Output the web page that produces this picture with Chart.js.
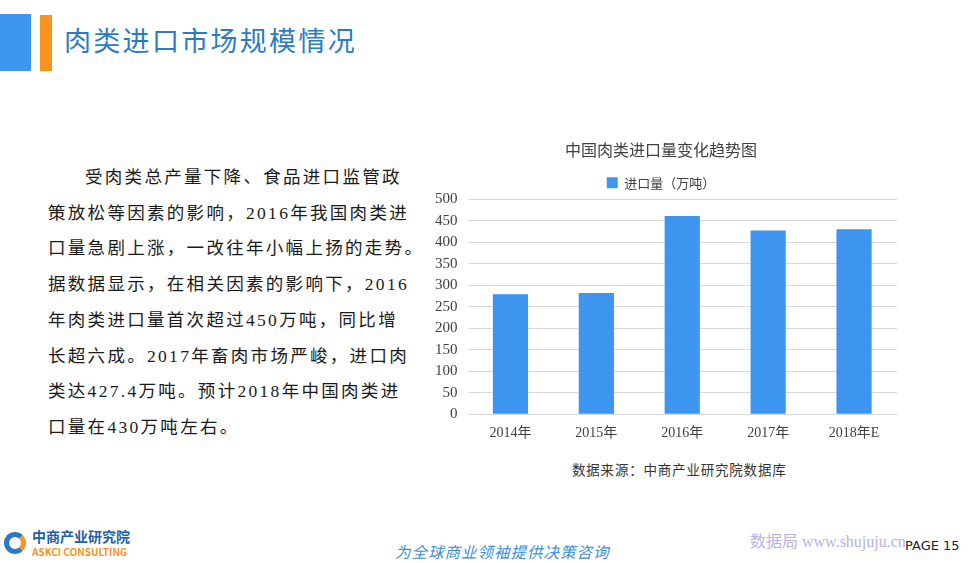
<!DOCTYPE html>
<html>
<head>
<meta charset="utf-8">
<script src="https://cdn.jsdelivr.net/npm/chart.js@4.4.0/dist/chart.umd.min.js"></script>
<style>
    body { margin: 0; width: 976px; height: 563px; position: relative; background: #fff; overflow: hidden;
           font-family: "Liberation Serif", "Noto Sans CJK SC", serif; }
    .blk-blue { position: absolute; left: 0; top: 14px; width: 31px; height: 57px; background: #3d95ef; }
    .blk-orange { position: absolute; left: 40px; top: 15px; width: 12px; height: 56px; background: #f7931e; }
    .title { position: absolute; left: 64px; top: 20px; font-family: "Noto Sans CJK SC", sans-serif;
             font-size: 27px; color: #2b7bc4; letter-spacing: 2.3px; }
    .para { position: absolute; left: 48px; top: 160px; font-size: 17.5px; color: #1a1a1a; line-height: 35.7px;
            font-family: "Liberation Serif", "Noto Sans CJK SC", serif; letter-spacing: 2.3px; white-space: nowrap; }
    .chart-box { position: absolute; left: 425px; top: 138px; width: 485px; height: 307px; }
    .source { position: absolute; left: 572px; top: 459px; font-size: 13.5px; color: #333;
              font-family: "Noto Sans CJK SC", sans-serif; letter-spacing: 0.8px; }
    .logo { position: absolute; left: 4px; top: 528px; font-family: "Noto Sans CJK SC", sans-serif; }
    .logo .circ { position: absolute; left: 0; top: 4px; width: 22px; height: 22px; border-radius: 50%;
                  border: 5px solid #2b7bc4; border-right-color: #f7931e; box-sizing: border-box; }
    .logo .cn { position: absolute; left: 28px; top: -2px; font-size: 14px; font-weight: bold; color: #1f5fa8; white-space: nowrap; }
    .logo .en { position: absolute; left: 28px; top: 16px; font-size: 10px; font-weight: bold; color: #f7931e; white-space: nowrap; }
    .slogan { position: absolute; left: 395px; top: 540px; font-size: 15.5px; font-style: italic; color: #3d8fd6;
              font-family: "Noto Sans CJK SC", sans-serif; letter-spacing: 1px; }
    .wm { position: absolute; left: 750px; top: 528px; font-size: 16px; color: #b7b2e6; white-space: nowrap; }
    .page { position: absolute; left: 905px; top: 538px; font-size: 13px; color: #222; font-family: "DejaVu Sans", sans-serif;
            background: #fff; }
</style>
</head>
<body>
<div class="blk-blue"></div>
<div class="blk-orange"></div>
<div class="title">肉类进口市场规模情况</div>

<div class="para">
    <div style="padding-left: 37px;">受肉类总产量下降、食品进口监管政</div>
    <div>策放松等因素的影响，2016年我国肉类进</div>
    <div>口量急剧上涨，一改往年小幅上扬的走势。</div>
    <div>据数据显示，在相关因素的影响下，2016</div>
    <div>年肉类进口量首次超过450万吨，同比增</div>
    <div>长超六成。2017年畜肉市场严峻，进口肉</div>
    <div>类达427.4万吨。预计2018年中国肉类进</div>
    <div>口量在430万吨左右。</div>
</div>

<div class="chart-box"><canvas id="importChart"></canvas></div>
<div class="source">数据来源：中商产业研究院数据库</div>

<div class="logo">
    <div class="circ"></div>
    <div class="cn">中商产业研究院</div>
    <div class="en">ASKCI CONSULTING</div>
</div>
<div class="slogan">为全球商业领袖提供决策咨询</div>
<div class="wm">数据局 www.shujuju.cn</div>
<div class="page">PAGE 15</div>

<script>
// Dados do gráfico
const categories = ['2014年', '2015年', '2016年', '2017年', '2018年E'];
const importVolume = [279, 282, 461, 427.4, 430];
const yTicks = [0, 50, 100, 150, 200, 250, 300, 350, 400, 450, 500];

const serif = '"Liberation Serif", "Noto Sans CJK SC", serif';

document.addEventListener('DOMContentLoaded', () => {
    const ctx = document.getElementById('importChart');

    new Chart(ctx, {
        type: 'bar',
        data: {
            labels: categories,
            datasets: [{
                label: '进口量（万吨）',
                data: importVolume,
                backgroundColor: '#3d95ef',
                categoryPercentage: 1,
                barPercentage: 0.41
            }]
        },
        options: {
            responsive: true,
            maintainAspectRatio: false,
            animation: false,
            layout: { padding: { left: 0, right: 13, top: 0, bottom: 0 } },
            plugins: {
                title: {
                    display: true,
                    text: '中国肉类进口量变化趋势图',
                    color: '#404040',
                    font: { family: '"Noto Sans CJK SC", sans-serif', size: 16, weight: 'normal' },
                    padding: { top: 2, bottom: 9 }
                },
                legend: {
                    display: true,
                    labels: {
                        boxWidth: 11,
                        boxHeight: 11,
                        color: '#404040',
                        font: { family: '"Noto Sans CJK SC", sans-serif', size: 13 },
                        padding: 8
                    }
                },
                tooltip: { enabled: false }
            },
            scales: {
                y: {
                    min: 0,
                    max: 500,
                    afterBuildTicks: axis => { axis.ticks = yTicks.map(v => ({ value: v })); },
                    grid: { color: '#d9d9d9', drawTicks: false },
                    border: { display: false },
                    ticks: { color: '#404040', font: { family: serif, size: 15 }, padding: 10 }
                },
                x: {
                    grid: { display: false },
                    border: { display: false },
                    ticks: { color: '#404040', font: { family: serif, size: 14 }, padding: 3 }
                }
            }
        }
    });
});
</script>
</body>
</html>
